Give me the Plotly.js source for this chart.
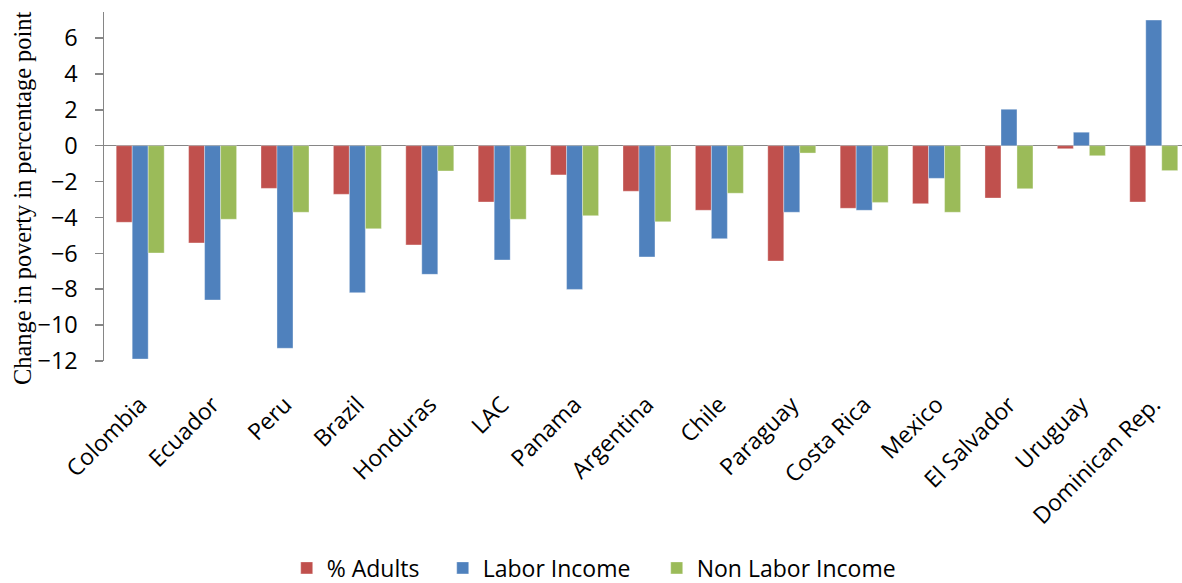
<!DOCTYPE html>
<html>
<head>
<meta charset="utf-8">
<script src="https://cdn.plot.ly/plotly-3.0.1.min.js"></script>
<style>
  html, body { margin: 0; padding: 0; background: #ffffff; }
  #chart { width: 1182px; height: 583px; }
</style>
</head>
<body>
<div id="chart"></div>
<script>
// Decomposition of the change in poverty (percentage points) by country
const countries = ["Colombia", "Ecuador", "Peru", "Brazil", "Honduras", "LAC", "Panama",
  "Argentina", "Chile", "Paraguay", "Costa Rica", "Mexico", "El Salvador", "Uruguay", "Dominican Rep."];

const adultsShare = [-4.27, -5.42, -2.38, -2.71, -5.53, -3.14, -1.63, -2.54, -3.60, -6.43, -3.49, -3.23, -2.92, -0.17, -3.14];
const laborIncome = [-11.89, -8.60, -11.29, -8.19, -7.17, -6.37, -8.01, -6.20, -5.18, -3.71, -3.60, -1.82, 2.03, 0.75, 7.00];
const nonLaborIncome = [-5.98, -4.10, -3.71, -4.63, -1.41, -4.10, -3.90, -4.24, -2.65, -0.41, -3.16, -3.71, -2.40, -0.56, -1.39];

const seriesNames = ["% Adults", "Labor Income", "Non Labor Income"];
const seriesColors = ["#C0504D", "#4F81BD", "#9BBB59"];
// width reserved for each legend entry's label
const legendEntryWidths = [111, 169, 210];

const yRange = [-12, 7.45];
const xRange = [-0.5, 14.39];
const axisGrey = "#868686";
const sansFont = "'Open Sans', 'Noto Sans', sans-serif";

const traces = [adultsShare, laborIncome, nonLaborIncome].map((vals, i) => ({
  type: "bar",
  name: seriesNames[i],
  x: countries,
  y: vals,
  legendwidth: legendEntryWidths[i],
  marker: { color: seriesColors[i], line: { color: "rgba(255,255,255,0.35)", width: 1 } },
  hoverinfo: "x+y+name"
}));

// tick marks sit on the boundaries between neighbouring categories
const boundaryTicks = countries.slice(1).map((_, i) => i + 0.5);

const layout = {
  width: 1182,
  height: 583,
  margin: { l: 104, r: 0, t: 12, b: 222, pad: 0, autoexpand: false },
  paper_bgcolor: "#ffffff",
  plot_bgcolor: "#ffffff",
  barmode: "group",
  bargap: 0.337,
  bargroupgap: 0,
  showlegend: true,
  legend: {
    orientation: "h",
    x: 0.1695,
    xanchor: "left",
    y: -0.593,
    yanchor: "middle",
    font: { family: sansFont, size: 23, color: "#000000" },
    traceorder: "normal",
    itemclick: false
  },
  xaxis: {
    type: "category",
    range: xRange,
    showline: false,
    showgrid: false,
    zeroline: false,
    ticks: "outside",
    ticklen: 20,
    tickcolor: "rgba(0,0,0,0)",
    tickangle: -45,
    tickfont: { family: sansFont, size: 23, color: "#000000" }
  },
  // horizontal axis line drawn through zero, carrying the category tick marks
  xaxis2: {
    overlaying: "x",
    anchor: "free",
    position: (0 - yRange[0]) / (yRange[1] - yRange[0]),
    side: "bottom",
    range: xRange,
    showline: true,
    linecolor: axisGrey,
    linewidth: 1.5,
    showgrid: false,
    zeroline: false,
    tickmode: "array",
    tickvals: boundaryTicks,
    ticks: "outside",
    ticklen: 8,
    tickwidth: 1.5,
    tickcolor: axisGrey,
    showticklabels: false
  },
  yaxis: {
    range: yRange,
    tickmode: "linear",
    tick0: 0,
    dtick: 2,
    showline: true,
    linecolor: axisGrey,
    linewidth: 1.5,
    ticks: "outside",
    ticklen: 8,
    tickwidth: 1.5,
    tickcolor: axisGrey,
    ticklabelstandoff: 12,
    showgrid: false,
    zeroline: true,
    zerolinecolor: axisGrey,
    zerolinewidth: 1.5,
    tickfont: { family: sansFont, size: 23.5, color: "#000000" }
  },
  annotations: [{
    text: "Change in poverty in percentage point",
    xref: "paper",
    yref: "paper",
    x: -0.0761,
    y: 0.467,
    xanchor: "center",
    yanchor: "middle",
    textangle: -90,
    showarrow: false,
    font: { family: "'Liberation Serif', 'Times New Roman', serif", size: 24.4, color: "#000000" }
  }]
};

Plotly.newPlot("chart", traces, layout, { displayModeBar: false, staticPlot: true });
</script>
</body>
</html>
